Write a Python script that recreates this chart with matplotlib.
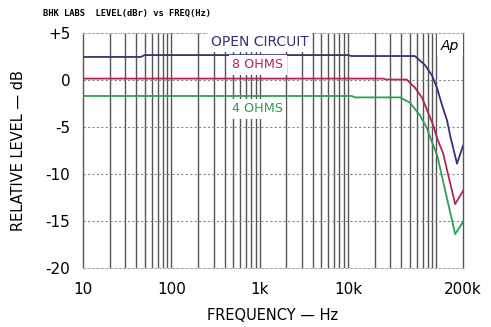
import numpy as np
import matplotlib
matplotlib.use("Agg")
import matplotlib.pyplot as plt

# Data (frequency in Hz, level in dBr)
open_f = [10, 45, 50, 10000, 11000, 57000, 74000, 89000, 102000, 116000, 132000, 143000, 171000, 200000]
open_db = [2.45, 2.45, 2.65, 2.65, 2.55, 2.55, 1.6, 0.5, -0.9, -2.7, -4.3, -5.9, -8.9, -7.0]

ohm8_f = [10, 25000, 27000, 46000, 57000, 69000, 80000, 92000, 102000, 119000, 163000, 200000]
ohm8_db = [0.15, 0.15, 0.05, 0.05, -0.8, -1.9, -3.4, -4.8, -6.2, -7.8, -13.2, -11.8]

ohm4_f = [10, 11000, 12000, 38700, 50000, 65000, 78000, 89000, 102000, 163000, 200000]
ohm4_db = [-1.7, -1.7, -1.85, -1.85, -2.4, -3.75, -5.1, -6.6, -8.0, -16.4, -15.1]

x_ticks = [10, 100, 1000, 10000, 200000]
x_labels = ["10", "100", "1k", "10k", "200k"]
y_ticks = [5, 0, -5, -10, -15, -20]
y_labels = ["+5", "0", "-5", "-10", "-15", "-20"]

series_names = ["OPEN CIRCUIT", "8 OHMS", "4 OHMS"]
series_colors = ["#3b2f78", "#b3245a", "#2e9e55"]

fig = plt.figure(figsize=(4.91, 3.27), dpi=100)
ax = fig.add_axes([83/491, 1-268/327, (463-83)/491, (268-33)/327])
ax.set_xscale("log")
ax.set_xlim(10, 200000)
ax.set_ylim(-20, 5)

# vertical grid (minor + major)
for dec in [10, 100, 1000, 10000, 100000]:
    for m in range(1, 10):
        v = dec * m
        if 10 < v < 200000:
            ax.axvline(v, color="#2a2a2a", lw=1.0, alpha=0.8, zorder=1)
for yv in [0, -5, -10, -15]:
    ax.axhline(yv, color="#888888", lw=0.8, ls=(0, (2, 2)), zorder=1)

for s in ["top", "bottom"]:
    ax.spines[s].set_color("#aaaaaa")
    ax.spines[s].set_linestyle((0, (2, 2)))
    ax.spines[s].set_linewidth(0.8)
for s in ["left", "right"]:
    ax.spines[s].set_color("#555555")
    ax.spines[s].set_linewidth(1.0)

data = [(open_f, open_db), (ohm8_f, ohm8_db), (ohm4_f, ohm4_db)]
for (f, d), c in zip(data, series_colors):
    ax.plot(f, d, color=c, lw=1.3, zorder=3)

ax.set_xticks(x_ticks)
ax.set_xticklabels(x_labels)
ax.xaxis.set_minor_locator(matplotlib.ticker.NullLocator())
ax.set_yticks(y_ticks)
ax.set_yticklabels(y_labels)
ax.tick_params(length=0, labelsize=11, pad=9)
ax.tick_params(axis="x", pad=10)

ax.set_xlabel("FREQUENCY — Hz", fontsize=10.5, labelpad=8)
ax.set_ylabel("RELATIVE LEVEL — dB", fontsize=10.5, labelpad=14)

box = dict(facecolor="white", edgecolor="none", pad=2.5)
ax.text((211-83)/380, 1-(42-33)/235, series_names[0], transform=ax.transAxes, color=series_colors[0],
        fontsize=10, va="center", bbox=box, zorder=4)
ax.text((232-83)/380, 1-(65-33)/235, series_names[1], transform=ax.transAxes, color=series_colors[1],
        fontsize=9.2, va="center", bbox=box, zorder=4)
ax.text((232-83)/380, 1-(109-33)/235, series_names[2], transform=ax.transAxes, color=series_colors[2],
        fontsize=9.2, va="center", bbox=box, zorder=4)
ax.text(0.99, 0.945, "Ap", transform=ax.transAxes, color="black", fontsize=10, style="italic",
        ha="right", va="center", bbox=box, zorder=4)

fig.text(43/491, 1-13/327, "BHK LABS  LEVEL(dBr) vs FREQ(Hz)", fontsize=6.3, family="DejaVu Sans Mono",
         fontweight="bold", va="center")

fig.savefig("out.png", dpi=100)
